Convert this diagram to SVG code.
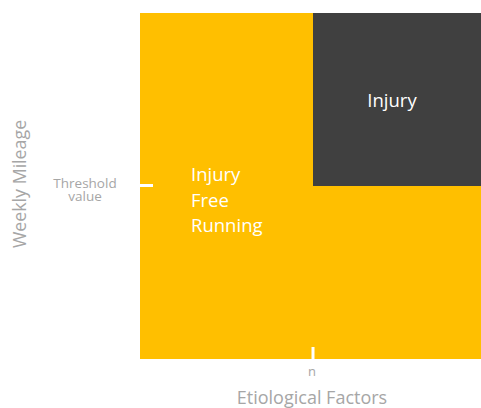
<svg xmlns="http://www.w3.org/2000/svg" width="481" height="408" viewBox="0 0 481 408">
<style>
.lbl{font-family:"Open Sans","Noto Sans",sans-serif;fill:#ffffff;font-size:18.5px}
.ax{font-family:"Open Sans","Noto Sans",sans-serif;fill:#a6a6a6}
</style>
<rect width="481" height="408" fill="#ffffff"/>
<g id="free">
<rect x="140" y="13" width="341" height="346" fill="#FFBF00"/>
<text class="lbl" x="191" y="181">Injury</text>
<text class="lbl" x="191" y="207">Free</text>
<text class="lbl" x="191" y="232">Running</text>
</g>
<g id="injury">
<rect x="313" y="13" width="168" height="173" fill="#404040"/>
<text class="lbl" x="392" y="107" text-anchor="middle">Injury</text>
</g>
<g id="ticks">
<rect x="140" y="184" width="13" height="3" fill="#ffffff"/>
<rect x="311.5" y="347" width="3" height="12" fill="#ffffff"/>
</g>
<g id="axes">
<text class="ax" x="85" y="188" font-size="13.5" text-anchor="middle">Threshold</text>
<text class="ax" x="85" y="201" font-size="13.5" text-anchor="middle">value</text>
<text class="ax" x="312" y="376" font-size="13" text-anchor="middle">n</text>
<text class="ax" x="312" y="404" font-size="18" text-anchor="middle">Etiological Factors</text>
<text class="ax" x="0" y="0" font-size="17.8" text-anchor="middle" transform="translate(26,184) rotate(-90)">Weekly Mileage</text>
</g>
</svg>
